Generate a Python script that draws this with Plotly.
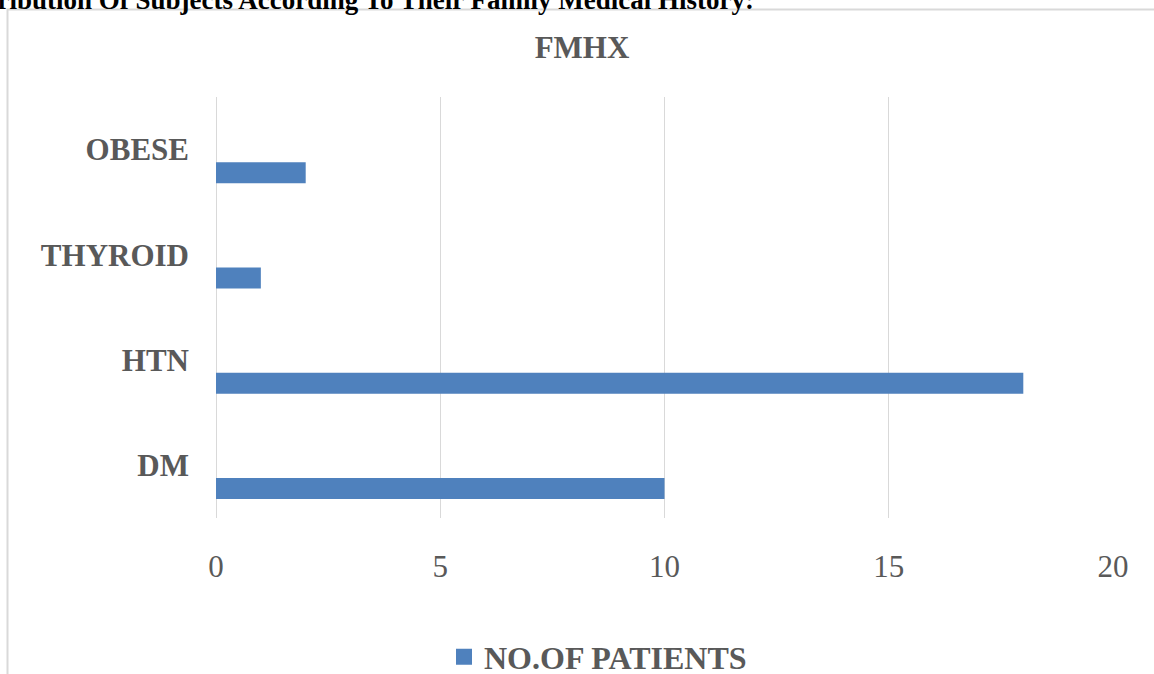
import plotly.graph_objects as go

# Family medical history counts
categories = ["DM", "HTN", "THYROID", "OBESE"]
patients = [10, 18, 1, 2]
series_name = "NO.OF PATIENTS"
x_ticks = [0, 5, 10, 15, 20]

W, H = 1154, 674
L, R, T, B = 216, 41, 97, 156
PW, PH = W - L - R, H - T - B

BAR = "#4F81BD"
GRAY = "#595959"
GRID = "#D9D9D9"
SERIF = "Liberation Serif, Times New Roman, serif"


def px_x(p):
    return (p - L) / PW


def px_y(p):
    return (H - B - p) / PH


fig = go.Figure()
fig.add_trace(go.Bar(
    y=categories, x=patients, orientation="h",
    width=0.2, offset=-0.32,
    marker=dict(color=BAR, line=dict(width=0)),
    name=series_name, showlegend=False,
))
# legend entry with a larger square swatch
fig.add_trace(go.Scatter(
    x=[None], y=[None], mode="markers", name="<b>" + series_name + "</b>",
    marker=dict(symbol="square", size=16, color=BAR),
))

fig.update_layout(
    width=W, height=H,
    margin=dict(l=L, r=R, t=T, b=B, autoexpand=False),
    paper_bgcolor="white", plot_bgcolor="white",
    font=dict(family=SERIF, color=GRAY),
    title=dict(text="<b>FMHX</b>", x=582 / W, xanchor="center",
               y=1 - 47.5 / H, yanchor="middle",
               font=dict(size=31, color=GRAY, family=SERIF)),
    showlegend=True,
    legend=dict(orientation="h", x=px_x(444), xanchor="left",
                y=px_y(657), yanchor="middle",
                font=dict(size=32, color=GRAY, family=SERIF),
                itemwidth=30, bgcolor="rgba(0,0,0,0)"),
    xaxis=dict(range=[0, 20], tickvals=x_ticks, showgrid=True,
               gridcolor=GRID, gridwidth=1.3, zeroline=True,
               zerolinecolor=GRID, zerolinewidth=1.3, showline=False,
               ticks="", ticklabelstandoff=27,
               tickfont=dict(size=31, color=GRAY, family=SERIF)),
    yaxis=dict(categoryorder="array", categoryarray=categories,
               range=[-0.5, 3.5], showgrid=False, zeroline=False,
               showline=False, ticks="", ticklabelstandoff=26,
               tickfont=dict(size=31, color=GRAY, family=SERIF),
               tickprefix="<b>", ticksuffix="</b>"),
    shapes=[dict(type="rect", xref="paper", yref="paper",
                 x0=px_x(7.5), x1=px_x(1175), y0=px_y(700), y1=px_y(9.5),
                 line=dict(color=GRID, width=2), layer="below")],
    annotations=[dict(
        text="<b>Distribution Of Subjects According To Their Family Medical History:</b>",
        xref="paper", yref="paper", x=px_x(-51), xanchor="left",
        y=px_y(-0.5), yanchor="middle", showarrow=False,
        font=dict(size=27, color="black", family=SERIF))],
)

fig.write_html("out.html")
